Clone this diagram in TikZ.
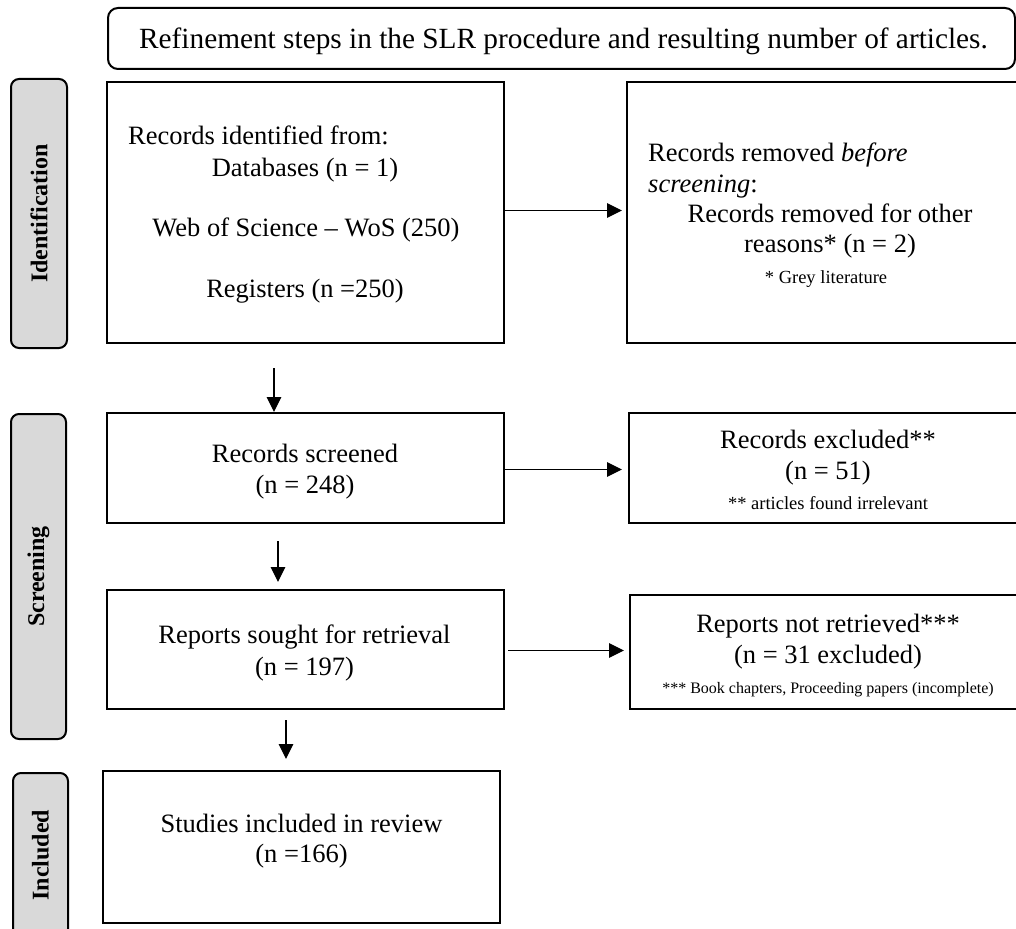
\documentclass[tikz,border=0pt]{standalone}
\usepackage{fontspec}
\setmainfont{Liberation Serif}
\usetikzlibrary{arrows.meta}
\definecolor{labgray}{RGB}{217,217,217}
\newcommand\mainsz{\fontsize{26.5}{31}\selectfont}
\newcommand\titlesz{\fontsize{29.3}{34}\selectfont}
\newcommand\smallsz{\fontsize{18.5}{22}\selectfont}
\newcommand\tinysz{\fontsize{16}{19}\selectfont}
\newcommand\labsz{\fontsize{24}{28}\selectfont\bfseries}
\tikzset{
  box/.style={draw, line width=2pt, rectangle, inner sep=0pt},
  titlebox/.style={draw, line width=2pt, rectangle, rounded corners=10pt, inner sep=0pt},
  lab/.style={draw, line width=2pt, fill=labgray, rounded corners=8pt, inner sep=0pt},
  labtxt/.style={inner sep=0pt, rotate=90, font=\labsz},
  arr/.style={-{Triangle[length=15pt,width=14.5pt]}, line width=1.2pt},
  txt/.style={inner sep=0pt, anchor=base, font=\mainsz},
  txtl/.style={inner sep=0pt, anchor=base west, font=\mainsz},
  note/.style={inner sep=0pt, anchor=base, font=\smallsz},
  tnote/.style={inner sep=0pt, anchor=base, font=\tinysz}
}
\begin{document}
\begin{tikzpicture}[x=1pt,y=-1pt]
\useasboundingbox (0,0) rectangle (1016,928);
\clip (0,0) rectangle (1016,928);
% title
\node[titlebox, minimum width=907pt, minimum height=61pt] (title) at (561.5,38.5) {};
\node[inner sep=0pt, anchor=base, font=\titlesz] (titletxt) at (563.5,49) {Refinement steps in the SLR procedure and resulting number of articles.};
% phase labels
\node[lab, minimum width=56pt, minimum height=269pt] (lab1) at (39,213.5) {};
\node[labtxt] (lab1t) at (lab1) {Identification};
\node[lab, minimum width=55pt, minimum height=325pt] (lab2) at (38.5,576.5) {};
\node[labtxt] (lab2t) at (lab2) {Screening};
\node[lab, minimum width=55pt, minimum height=164pt] (lab3) at (40.5,855) {};
\node[labtxt] (lab3t) at (lab3) {Included};
% boxes
\node[box, minimum width=397pt, minimum height=261pt] (b1) at (305.5,212.5) {};
\node[box, minimum width=406pt, minimum height=261pt] (b2) at (830,212.5) {};
\node[box, minimum width=397pt, minimum height=110pt] (b3) at (305.5,468) {};
\node[box, minimum width=398pt, minimum height=110pt] (b4) at (828,468) {};
\node[box, minimum width=397pt, minimum height=119pt] (b5) at (305.5,649.5) {};
\node[box, minimum width=396pt, minimum height=114pt] (b6) at (828,652) {};
\node[box, minimum width=397pt, minimum height=152pt] (b7) at (301.5,847) {};
% texts box 1
\node[txtl] (t1a) at (128,145) {Records identified from:};
\node[txt] (t1b) at (305,176) {Databases (n = 1)};
\node[txt] (t1c) at (306,236) {Web of Science – WoS (250)};
\node[txt] (t1d) at (305,297) {Registers (n =250)};
% box 2
\node[txtl] (t2a) at (648,161) {Records removed \textit{before}};
\node[txtl] (t2b) at (648,192) {\textit{screening}:};
\node[txt] (t2c) at (830,222) {Records removed for other};
\node[txt] (t2d) at (830,252) {reasons* (n = 2)};
\node[note] (t2e) at (826,283) {* Grey literature};
% box 3
\node[txt] (t3a) at (305,462) {Records screened};
\node[txt] (t3b) at (305,493) {(n = 248)};
% box 4
\node[txt] (t4a) at (828,448) {Records excluded**};
\node[txt] (t4b) at (828,479) {(n = 51)};
\node[note] (t4c) at (828,509) {** articles found irrelevant};
% box 5
\node[txt] (t5a) at (304.5,643) {Reports sought for retrieval};
\node[txt] (t5b) at (304.5,675) {(n = 197)};
% box 6
\node[txt] (t6a) at (828,632) {Reports not retrieved***};
\node[txt] (t6b) at (828,663) {(n = 31 excluded)};
\node[tnote] (t6c) at (828,693) {*** Book chapters, Proceeding papers (incomplete)};
% box 7
\node[txt] (t7a) at (301.5,832) {Studies included in review};
\node[txt] (t7b) at (301.5,862) {(n =166)};
% arrows
\draw[arr, shorten >=4pt] ([yshift=2pt]b1.east) -- ([yshift=2pt]b1.east -| b2.west);
\draw[arr, shorten >=6pt] ([yshift=-1.5pt]b3.east) -- ([yshift=-1.5pt]b3.east -| b4.west);
\draw[arr, shorten <=3pt, shorten >=5pt] ([yshift=-1pt]b5.east) -- ([yshift=-1pt]b5.east -| b6.west);
\draw[arr, shorten <=24pt] ([xshift=-31.5pt]b1.south) -- ([xshift=-31.5pt]b1.south |- b3.north);
\draw[arr, shorten <=17pt, shorten >=7pt] ([xshift=-27.5pt]b3.south) -- ([xshift=-27.5pt]b3.south |- b5.north);
\draw[arr, shorten <=10pt, shorten >=11pt] ([xshift=-19.5pt]b5.south) -- ([xshift=-19.5pt]b5.south |- b7.north);
\end{tikzpicture}
\end{document}
